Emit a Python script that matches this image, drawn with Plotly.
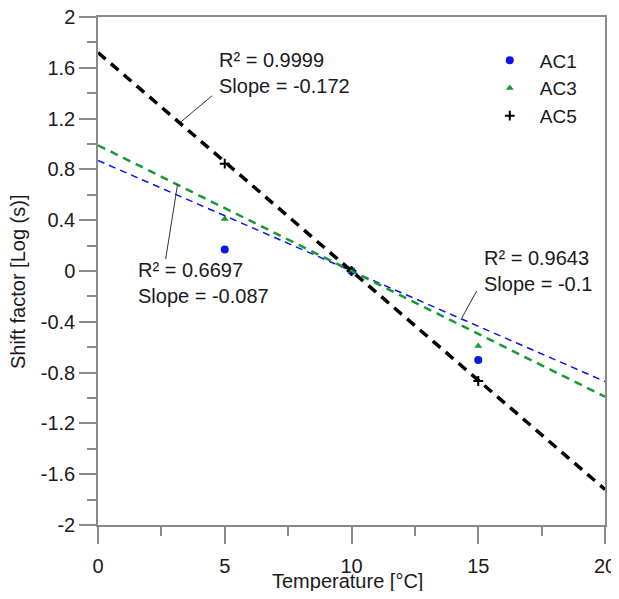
import plotly.graph_objects as go

# ---- data ----
temps = [5, 10, 15]
ac1 = [0.17, 0.0, -0.70]
ac3 = [0.41, 0.0, -0.59]
ac5 = [0.845, 0.0, -0.866]

fit_x = [0, 20]
ref_temp = 10
slope_ac1 = -0.087
slope_ac3 = -0.099
slope_ac5 = -0.172

y_ticks = [2, 1.6, 1.2, 0.8, 0.4, 0, -0.4, -0.8, -1.2, -1.6, -2]
y_labels = ["2", "1.6", "1.2", "0.8", "0.4", "0", "-0.4", "-0.8", "-1.2", "-1.6", "-2"]
x_ticks = [0, 5, 10, 15, 20]
x_labels = ["0", "5", "10", "15", "20"]

BLUE = "#0a14f0"
GREEN = "#149a32"
BLACK = "#000000"
AXC = "#8a8a8a"
TXT = "#1a1a1a"
FONT = "Liberation Sans, Arial, sans-serif"

def fit(slope):
    return [slope * (t - ref_temp) for t in fit_x]

fig = go.Figure()

fig.add_trace(go.Scatter(x=temps, y=ac1, mode="markers", name="AC1",
                         marker=dict(symbol="circle", size=8, color=BLUE)))
fig.add_trace(go.Scatter(x=temps, y=ac3, mode="markers", name="AC3",
                         marker=dict(symbol="triangle-up", size=7, color=GREEN)))
fig.add_trace(go.Scatter(x=temps, y=ac5, mode="markers", name="AC5",
                         marker=dict(symbol="cross-thin", size=7,
                                     line=dict(color=BLACK, width=2))))

fig.add_trace(go.Scatter(x=fit_x, y=fit(slope_ac1), mode="lines", showlegend=False,
                         line=dict(color=BLUE, width=1.5, dash="7px,5px")))
fig.add_trace(go.Scatter(x=fit_x, y=fit(slope_ac3), mode="lines", showlegend=False,
                         line=dict(color=GREEN, width=2.5, dash="8px,6px")))
fig.add_trace(go.Scatter(x=fit_x, y=fit(slope_ac5), mode="lines", showlegend=False,
                         line=dict(color=BLACK, width=3.5, dash="10px,7px")))

annots = [
    dict(text="R² = 0.9999<br>Slope = -0.172", x=4.69, y=1.56),
    dict(text="R² = 0.6697<br>Slope = -0.087", x=1.49, y=-0.094),
    dict(text="R² = 0.9643<br>Slope = -0.1", x=15.13, y=0.0),
]
for a in annots:
    fig.add_annotation(text=a["text"], x=a["x"], y=a["y"], xref="x", yref="y",
                       xanchor="left", yanchor="middle", align="left", showarrow=False,
                       font=dict(family=FONT, size=20, color=TXT))

pointers = [
    (4.50, 1.38, 3.22, 1.166),
    (2.67, 0.094, 3.14, 0.685),
    (14.94, -0.157, 14.35, -0.37),
]
for x0, y0, x1, y1 in pointers:
    fig.add_shape(type="line", x0=x0, y0=y0, x1=x1, y1=y1, xref="x", yref="y",
                  line=dict(color="#333333", width=1))

# axis titles
fig.add_annotation(text="Temperature [°C]", xref="paper", yref="paper",
                   x=0.493, y=-0.111, xanchor="center", yanchor="middle",
                   showarrow=False, font=dict(family=FONT, size=20, color=TXT))
fig.add_annotation(text="Shift factor [Log (s)]", xref="paper", yref="paper",
                   x=-0.158, y=0.48, xanchor="center", yanchor="middle", textangle=-90,
                   showarrow=False, font=dict(family=FONT, size=20, color=TXT))

axis_common = dict(
    showgrid=False, zeroline=False, showline=True, linecolor=AXC, linewidth=1.5,
    mirror=True, ticks="outside", ticklen=17, tickwidth=1.5, tickcolor=AXC,
    tickfont=dict(family=FONT, size=20, color=TXT), automargin=False,
    ticklabeloverflow="allow",
)

fig.update_xaxes(range=[0, 20], tickvals=x_ticks, ticktext=x_labels, ticklabelstandoff=5,
                 minor=dict(dtick=2.5, ticks="outside", ticklen=9, tickwidth=1.5, tickcolor=AXC),
                 **axis_common)
fig.update_yaxes(range=[-2, 2], tickvals=y_ticks, ticktext=y_labels,
                 minor=dict(dtick=0.2, ticks="outside", ticklen=9, tickwidth=1.5, tickcolor=AXC),
                 **axis_common)

fig.update_layout(
    width=611, height=583,
    margin=dict(l=90, r=14, t=9, b=66, autoexpand=False),
    plot_bgcolor="white", paper_bgcolor="white",
    font=dict(family=FONT, size=20, color=TXT),
    legend=dict(x=0.753, y=0.952, xanchor="left", yanchor="top", itemwidth=50,
                bgcolor="rgba(0,0,0,0)", font=dict(family=FONT, size=19),
                tracegroupgap=0),
    showlegend=True,
)

fig.write_html("out.html")
